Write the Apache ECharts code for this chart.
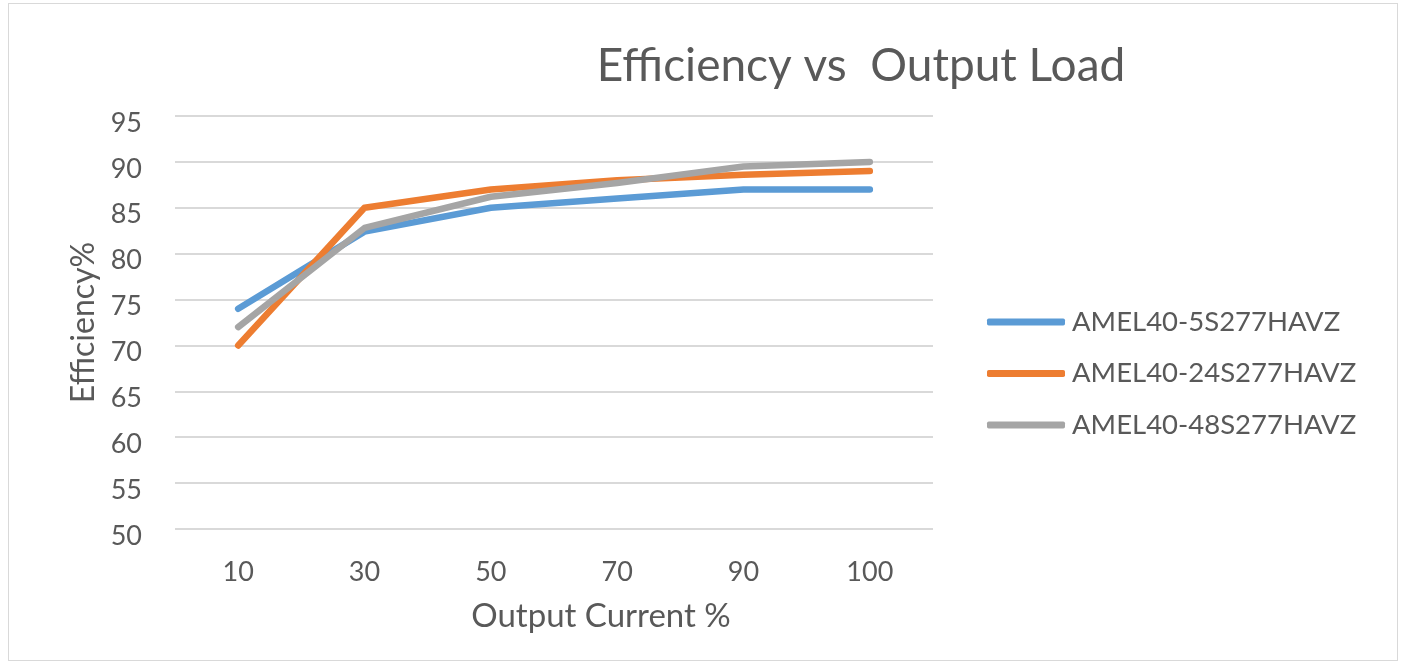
<!DOCTYPE html>
<html>
<head>
<meta charset="utf-8">
<script src="https://cdn.jsdelivr.net/npm/echarts@6/dist/echarts.min.js"></script>
<style>
  html, body { margin: 0; padding: 0; background: #fff; }
  #frame { position: absolute; left: 8px; top: 3px; width: 1390px; height: 658px; border: 1.5px solid #d9d9d9; box-sizing: border-box; }
  #chart { position: absolute; left: 0; top: 0; width: 1405px; height: 663px; }
</style>
</head>
<body>
<div id="frame"></div>
<div id="chart"></div>
<script>
// Output current (% of rated load)
const loadPct = ['10', '30', '50', '70', '90', '100'];
// Efficiency (%) per model
const eff5S = [74, 82.4, 85, 86, 87, 87];
const eff24S = [70, 85, 87, 88, 88.6, 89];
const eff48S = [72, 82.8, 86.2, 87.7, 89.5, 90];
const seriesNames = ['AMEL40-5S277HAVZ', 'AMEL40-24S277HAVZ', 'AMEL40-48S277HAVZ'];
const colors = ['#5B9BD5', '#ED7D31', '#A5A5A5'];

const FONT = 'Lato';
const TEXT = '#595959';
const chart = echarts.init(document.getElementById('chart'));

function lineSeries(name, data, color, z) {
  return {
    name, type: 'line', data, z,
    symbol: 'none',
    lineStyle: { color, width: 6.5, cap: 'round', join: 'round' },
    itemStyle: { color },
    emphasis: { disabled: true }
  };
}

chart.setOption({
  animation: false,
  color: colors,
  title: {
    text: 'Efficiency vs  Output Load',
    left: 856, top: 38, textAlign: 'center',
    textStyle: { fontFamily: FONT, fontSize: 46, fontWeight: 'normal', color: TEXT }
  },
  legend: {
    orient: 'vertical',
    left: 987, top: 298, padding: 0,
    itemWidth: 78, itemHeight: 7, itemGap: 3.5,
    icon: 'roundRect',
    textStyle: { fontFamily: FONT, fontSize: 27.5, lineHeight: 28, color: TEXT, padding: [20, 0, 0, 2] },
    data: seriesNames
  },
  grid: { left: 175, right: 1405 - 933, top: 116, bottom: 663 - 529, containLabel: false },
  xAxis: {
    type: 'category',
    data: loadPct,
    boundaryGap: true,
    axisLine: { show: false },
    axisTick: { show: false },
    axisLabel: { fontFamily: FONT, fontSize: 27, color: TEXT, margin: 30 },
    name: 'Output Current %',
    nameLocation: 'middle',
    nameGap: 71,
    nameTextStyle: { fontFamily: FONT, fontSize: 33, color: TEXT, padding: [0, 0, 0, 94] }
  },
  yAxis: {
    type: 'value',
    min: 50, max: 95, interval: 5,
    axisLine: { show: false },
    axisTick: { show: false },
    splitLine: { lineStyle: { color: '#d9d9d9', width: 2 } },
    // tick labels sit slightly below their gridlines
    axisLabel: { fontFamily: FONT, fontSize: 27, color: TEXT, margin: 33, verticalAlign: 'top', lineHeight: 14 },
    name: 'Efficiency%',
    nameLocation: 'middle',
    nameGap: 74,
    nameRotate: 90,
    nameTextStyle: { fontFamily: FONT, fontSize: 32, color: TEXT }
  },
  series: [
    lineSeries(seriesNames[0], eff5S, colors[0], 1),
    lineSeries(seriesNames[1], eff24S, colors[1], 2),
    lineSeries(seriesNames[2], eff48S, colors[2], 3)
  ]
});
</script>
</body>
</html>
